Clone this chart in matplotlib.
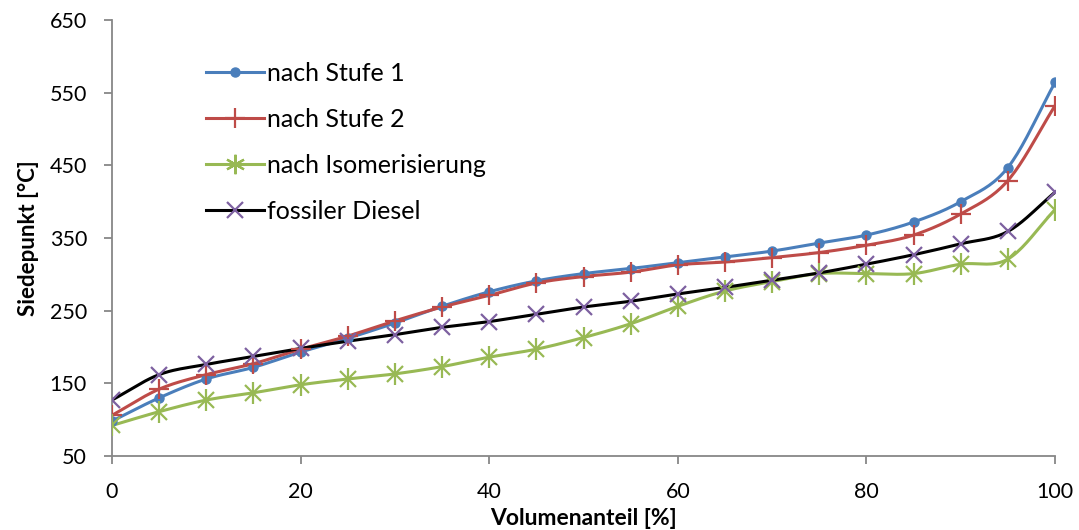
import numpy as np
import matplotlib
matplotlib.use("Agg")
import matplotlib.pyplot as plt
from matplotlib.lines import Line2D

x = [0, 5, 10, 15, 20, 25, 30, 35, 40, 45, 50, 55, 60, 65, 70, 75, 80, 85, 90, 95, 100]
stufe1 = [98, 130, 156, 172, 193, 212, 233, 256, 276, 291, 301, 308, 316, 324, 332, 343, 354, 372, 400, 447, 564]
stufe2 = [106, 142, 162, 177, 197, 215, 236, 255, 271, 288, 297, 303, 313, 317, 323, 330, 340, 354, 383, 429, 532]
isomer = [92, 111, 127, 137, 148, 156, 163, 173, 186, 197, 213, 232, 256, 277, 290, 301, 301, 301, 314, 321, 389]
diesel = [127, 162, 176, 187, 198, 208, 217, 227, 235, 245, 255, 263, 273, 282, 292, 302, 314, 327, 342, 359, 413]

labels = ["nach Stufe 1", "nach Stufe 2", "nach Isomerisierung", "fossiler Diesel"]
blue, red, green, purple = "#4A7EBB", "#BE4B48", "#98B954", "#7D60A0"

plt.rcParams['font.family'] = ['Lato', 'DejaVu Sans']


def smooth(xs, ys, n=20):
    xs = np.asarray(xs, float); ys = np.asarray(ys, float)
    P = np.column_stack([xs, ys])
    P = np.vstack([P[0] - (P[1] - P[0]), P, P[-1] + (P[-1] - P[-2])])
    out = []
    for i in range(1, len(P) - 2):
        p0, p1, p2, p3 = P[i - 1], P[i], P[i + 1], P[i + 2]
        t = np.linspace(0, 1, n, endpoint=False)[:, None]
        seg = 0.5 * ((2 * p1) + (-p0 + p2) * t + (2 * p0 - 5 * p1 + 4 * p2 - p3) * t ** 2
                     + (-p0 + 3 * p1 - 3 * p2 + p3) * t ** 3)
        out.append(seg)
    out.append(P[-2][None, :])
    out = np.vstack(out)
    return out[:, 0], out[:, 1]


fig = plt.figure(figsize=(10.79, 5.30), dpi=100)
ax = fig.add_axes([112 / 1079, 1 - 456 / 530, (1055 - 112) / 1079, (456 - 20) / 530])

lw = 2.2
sx, sy = smooth(x, stufe1)
ax.plot(sx, sy, color=blue, lw=lw, zorder=3)
ax.plot(x, stufe1, ls='none', marker='o', ms=6.5, color=blue, zorder=4)

sx, sy = smooth(x, stufe2)
ax.plot(sx, sy, color=red, lw=lw, zorder=3)
ax.plot(x, stufe2, ls='none', marker='+', ms=14, mew=1.6, color=red, zorder=4)

sx, sy = smooth(x, isomer)
ax.plot(sx, sy, color=green, lw=lw, zorder=3)
ax.plot(x, isomer, ls='none', marker='x', ms=12, mew=1.6, color=green, zorder=4)
ax.plot(x, isomer, ls='none', marker='|', ms=16, mew=1.6, color=green, zorder=4)

sx, sy = smooth(x, diesel)
ax.plot(sx, sy, color='black', lw=lw, zorder=3)
ax.plot(x, diesel, ls='none', marker='x', ms=11, mew=1.6, color=purple, zorder=4)

ax.set_xlim(0, 100)
ax.set_ylim(50, 650)
ax.set_xticks([0, 20, 40, 60, 80, 100])
ax.set_yticks([50, 150, 250, 350, 450, 550, 650])
for s in ['top', 'right']:
    ax.spines[s].set_visible(False)
for s in ['left', 'bottom']:
    ax.spines[s].set_color('#878787')
    ax.spines[s].set_linewidth(1.3)
ax.tick_params(axis='both', colors='#878787', labelcolor='black', labelsize=15.5,
               length=6, width=1.3, direction='out')
ax.tick_params(axis='x', pad=13)
ax.tick_params(axis='y', pad=12)
ax.set_xlabel("Volumenanteil [%]", fontsize=16.5, fontweight='bold', labelpad=4)
ax.set_ylabel("Siedepunkt [°C]", fontsize=16, fontweight='bold', labelpad=8)

handles = [
    Line2D([], [], color=blue, lw=lw, marker='o', ms=6.5),
    Line2D([], [], color=red, lw=lw, marker='+', ms=14, mew=1.6),
    Line2D([], [], color=green, lw=lw, marker=(6, 2, 0), ms=14, mew=1.6),
    Line2D([], [], color='black', lw=lw, marker='x', ms=11, mew=1.6, mec=purple),
]
ax.legend(handles, labels, loc='upper left', bbox_to_anchor=(0.076, 0.955), frameon=False,
          fontsize=18, handlelength=2.3, handletextpad=0.15, labelspacing=0.92)

fig.savefig("out.png", dpi=100)
